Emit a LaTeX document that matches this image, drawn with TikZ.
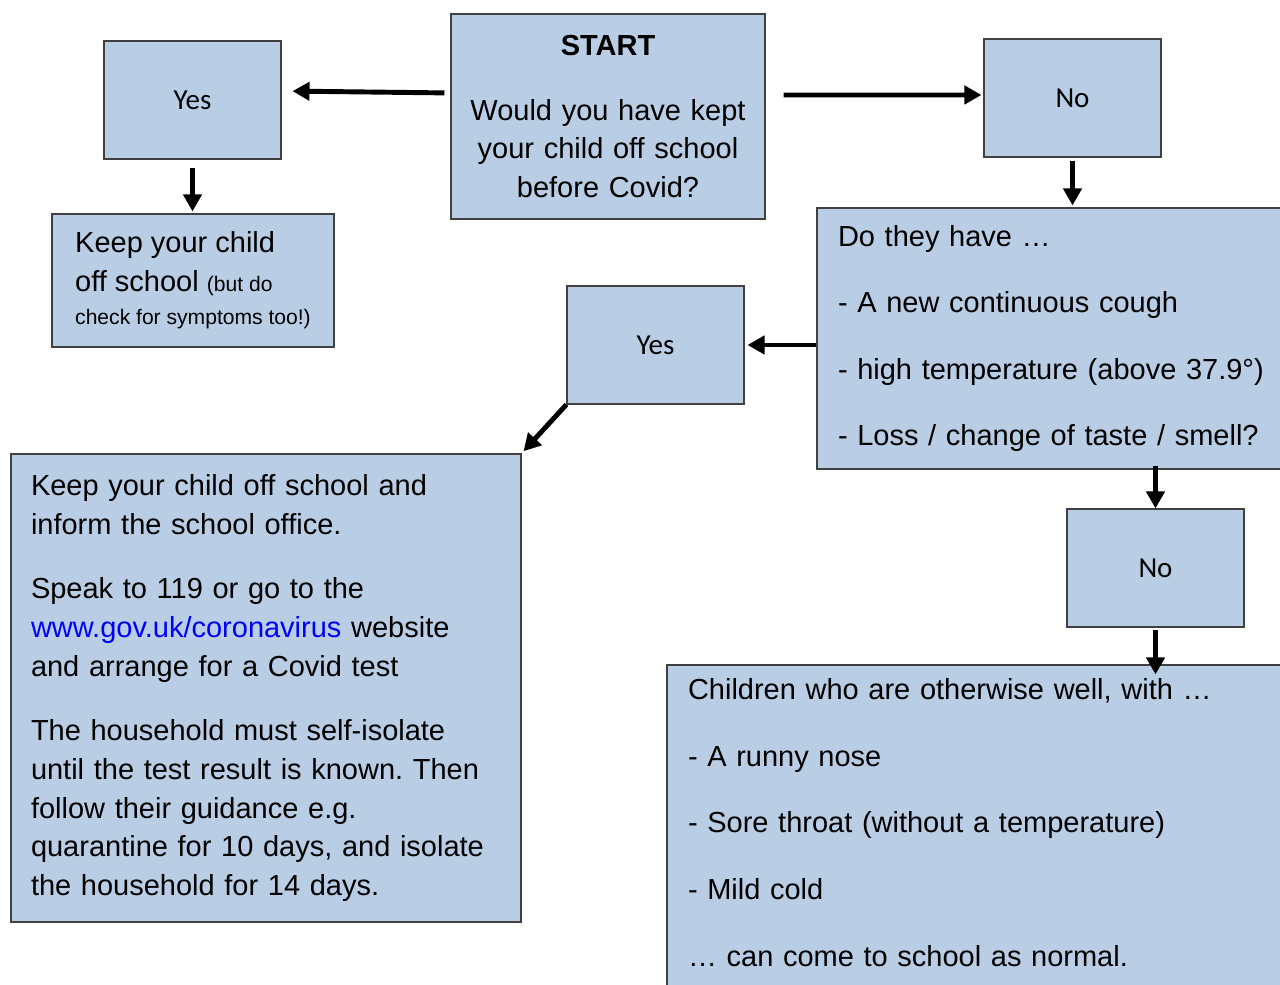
\documentclass[tikz,border=0pt]{standalone}
\usepackage{fontspec}
\setmainfont{Liberation Sans}
\newfontfamily\carlito{Carlito}
\usetikzlibrary{arrows.meta}

\definecolor{boxblue}{HTML}{B9CDE5}
\definecolor{linkblue}{HTML}{0000FF}
\newcommand{\bodyfont}{\frenchspacing\fontsize{16.5}{22}\selectfont}
\newcommand{\answerfont}{\carlito\fontsize{16.5}{20}\selectfont}

\begin{document}
\begin{tikzpicture}[
    box/.style={draw=black!75, fill=boxblue, line width=0.6pt, inner sep=0pt},
    answer/.style={box, minimum width=3.54cm, minimum height=2.36cm, font=\answerfont},
    info/.style={box, align=left, font=\bodyfont},
    flow/.style={-{Triangle[length=0.34cm,width=0.36cm]}, line width=2.8pt},
  ]
  \clip (0,0) rectangle (25.6,19.7);

  % question at the top
  \node[box, align=center, font=\bodyfont, text width=6cm,
    minimum width=6.28cm, minimum height=4.1cm] (start) at (12.16,17.37)
    {\textbf{START}\\[0.52cm] Would you have kept\\ your child off school\\ before Covid?};

  % answers
  \node[answer] (yes top) at (3.85,17.7) {Yes};
  \node[answer] (no top) at (21.45,17.74) {No};
  \node[answer] (yes mid) at (13.11,12.8) {Yes};
  \node[answer] (no low) at (23.11,8.34) {No};

  % outcomes
  \node[info, minimum width=5.64cm, minimum height=2.66cm] (keep off) at (3.86,14.09)
    {Keep your child\\ off school {\fontsize{12}{14}\selectfont (but do}\\[-0.1cm]
     {\fontsize{12}{14}\selectfont check for symptoms too!)}};

  \node[info, text width=9.16cm, minimum width=10cm, minimum height=5.22cm] (symptoms) at (21.34,12.93)
    {Do they have …\\[0.55cm]
     - A new continuous cough\\[0.55cm]
     - high temperature (above 37.9°)\\[0.55cm]
     - Loss / change of taste / smell?};

  \node[info, text width=9.4cm, minimum width=10.2cm, minimum height=9.36cm] (isolate) at (5.32,5.94)
    {Keep your child off school and\\ inform the school office.\\[0.52cm]
     Speak to 119 or go to the\\ \textcolor{linkblue}{www.gov.uk/coronavirus} website\\ and arrange for a Covid test\\[0.52cm]
     The household must self-isolate\\ until the test result is known. Then\\ follow their guidance e.g.\\
     quarantine for 10 days, and isolate\\ the household for 14 days.};

  \node[info, text width=11.96cm, minimum width=12.8cm, minimum height=6.6cm] (normal) at (19.74,3.1)
    {Children who are otherwise well, with …\\[0.56cm]
     - A runny nose\\[0.56cm]
     - Sore throat (without a temperature)\\[0.56cm]
     - Mild cold\\[0.56cm]
     … can come to school as normal.\rule[-0.3cm]{0pt}{0.3cm}};

  % arrows
  \draw[flow, shorten <=0.12cm, shorten >=0.22cm] ([yshift=0.47cm]start.west) -- ([yshift=0.18cm]yes top.east);
  \draw[flow, shorten <=0.36cm, shorten >=0.04cm] ([yshift=0.43cm]start.east) -- ([yshift=0.06cm]no top.west);
  \draw[flow, shorten <=0.16cm, shorten >=0.04cm] (yes top.south) -- (yes top.south |- keep off.north);
  \draw[flow, shorten <=0.06cm, shorten >=0.04cm] (no top.south) -- (no top.south |- symptoms.north);
  \draw[flow, shorten >=0.06cm] (symptoms.west |- yes mid.east) -- (yes mid.east);
  \draw[flow, shorten >=0.06cm] (yes mid.south west) -- (isolate.north east);
  \draw[flow, shorten <=-0.08cm] (no low.north |- symptoms.south) -- (no low.north);
  \draw[flow, shorten <=0.04cm, shorten >=-0.2cm] (no low.south) -- (no low.south |- normal.north);
\end{tikzpicture}
\end{document}
